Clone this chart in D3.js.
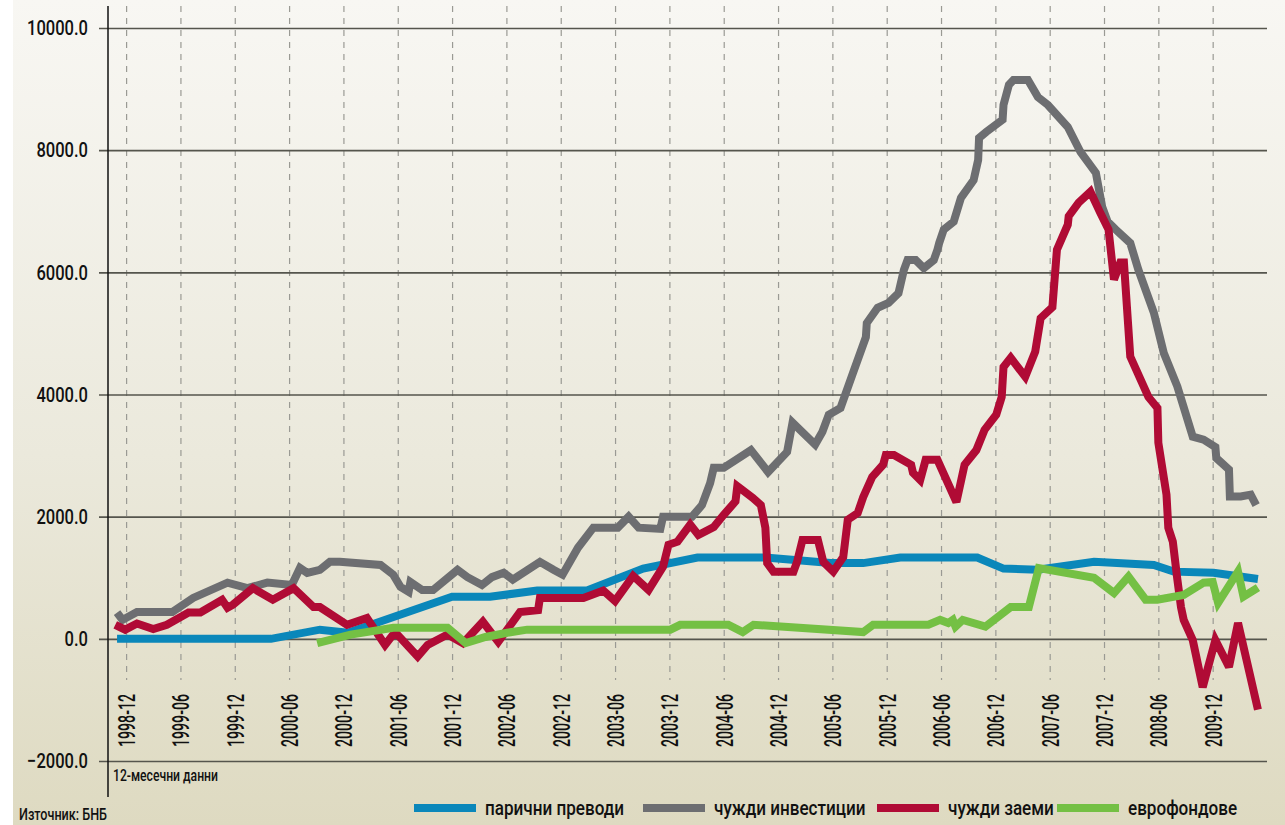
<!DOCTYPE html>
<html>
<head>
<meta charset="utf-8">
<script src="https://cdn.jsdelivr.net/npm/d3@7"></script>
<style>
  body { margin: 0; background: #fff; }
  text { font-family: "Roboto", "DejaVu Sans Condensed", sans-serif; font-weight: 500; fill: #111; }
</style>
</head>
<body>
<script>
// 12-month data, months counted from 1998-12 (= 0)
let xLabels = ["1998-12", "1999-06", "1999-12", "2000-06", "2000-12", "2001-06", "2001-12",
    "2002-06", "2002-12", "2003-06", "2003-12", "2004-06", "2004-12", "2005-06", "2005-12",
    "2006-06", "2006-12", "2007-06", "2007-12", "2008-06", "2009-12"];
let xTickMonths = [0, 6, 12, 18, 24, 30, 36, 42, 48, 54, 60, 66, 72, 78, 84, 90, 96, 102, 108, 114, 120];
let yTicks = [-2000, 0, 2000, 4000, 6000, 8000, 10000];

let seriesNames = ["парични преводи", "чужди инвестиции", "чужди заеми", "еврофондове"];
let seriesColors = ["#0a87ba", "#6d6e71", "#b00b35", "#74c044"];

let remittances = [[-1, 0], [16, 0], [21.4, 150], [24.5, 100], [36, 690], [40.2, 690], [45.4, 790],
    [50.9, 790], [57.1, 1150], [63.1, 1330], [70.6, 1330], [77.8, 1240], [81.4, 1240], [85.5, 1330],
    [94, 1330], [96.9, 1150], [100.7, 1130], [106.9, 1260], [113.5, 1210], [115.7, 1100],
    [120.1, 1080], [125, 980]];

let investments = [[-1, 430], [-0.4, 310], [1.2, 440], [5.1, 440], [7.4, 670], [11.2, 920],
    [13.4, 830], [15.6, 920], [18.3, 880], [19.2, 1160], [20, 1080], [21.4, 1130], [22.5, 1260],
    [23.6, 1260], [28.1, 1210], [29.5, 1050], [30.3, 850], [31.2, 770], [31.4, 930], [32.7, 800],
    [33.9, 800], [36.6, 1130], [37.7, 1010], [39.3, 880], [40.4, 1010], [41.7, 1080], [42.7, 970],
    [45.7, 1260], [47.2, 1130], [48.2, 1050], [49.9, 1490], [51.6, 1820], [54.3, 1820], [55.5, 2000],
    [56.6, 1820], [59, 1800], [59.3, 2000], [62.5, 2000], [63.6, 2190], [64.5, 2550], [64.9, 2800],
    [66, 2800], [69, 3090], [70.9, 2730], [73, 3060], [73.6, 3540], [76.1, 3180], [76.9, 3390],
    [77.6, 3670], [78.9, 3780], [80.2, 4320], [81.7, 4940], [81.8, 5170], [83, 5420], [84.2, 5500],
    [85.3, 5660], [85.9, 6040], [86.3, 6200], [87.2, 6200], [88.1, 6070], [89.2, 6200], [89.6, 6370],
    [89.8, 6480], [90.3, 6700], [91.4, 6830], [92.2, 7220], [93.6, 7510], [94.1, 7840], [94.2, 8200],
    [95, 8300], [96.8, 8500], [96.9, 8740], [97.5, 9070], [98, 9150], [99.6, 9150], [100.7, 8870],
    [101.8, 8740], [104, 8380], [105.4, 7970], [107.1, 7630], [107.8, 7070], [108.4, 6830],
    [109.3, 6700], [110.9, 6480], [111.8, 6040], [113.5, 5340], [114.6, 4680], [116.1, 4130],
    [117.8, 3310], [119, 3260], [120.3, 3140], [120.4, 2960], [121.8, 2770], [121.9, 2330],
    [123.1, 2330], [124.2, 2360], [124.8, 2190]];

let loans = [[-1.2, 230], [-0.1, 150], [1.2, 250], [3, 160], [4.5, 230], [6.9, 430], [8.2, 430],
    [10.6, 640], [11.2, 510], [11.8, 560], [14, 830], [16.2, 640], [18.5, 830], [20.7, 520],
    [21.4, 520], [24.4, 230], [26.6, 340], [28.6, -100], [29.7, 110], [32.2, -290], [33.3, -100],
    [35.5, 70], [37.2, -70], [39.4, 280], [41.1, -50], [43.5, 440], [45.5, 470], [45.7, 670],
    [50.5, 670], [52.7, 790], [54, 620], [56, 1030], [57.7, 800], [59.3, 1180], [59.9, 1540],
    [60.9, 1590], [62.3, 1870], [63.2, 1700], [64.9, 1830], [66, 2030], [67.3, 2250], [67.5, 2500],
    [69.2, 2310], [70.1, 2190], [70.6, 1820], [70.8, 1240], [71.5, 1100], [73.7, 1100], [74.1, 1260],
    [74.7, 1620], [76.4, 1620], [77, 1260], [78.1, 1100], [79.2, 1340], [79.7, 1950], [80.8, 2060],
    [81.4, 2320], [82.4, 2650], [83.6, 2850], [83.9, 3010], [84.8, 3010], [86.7, 2850], [86.9, 2720],
    [87.7, 2600], [88.3, 2930], [89.6, 2930], [91.7, 2240], [92.6, 2850], [93.9, 3090], [94.8, 3420],
    [96.1, 3670], [96.7, 3960], [96.9, 4450], [97.7, 4600], [99.3, 4290], [100.4, 4700], [101, 5250],
    [102.3, 5430], [102.8, 6370], [104, 6780], [104.1, 6920], [105.2, 7140], [106.5, 7320],
    [107.6, 6970], [108.5, 6700], [109.1, 5880], [109.8, 6160], [110.2, 6160], [110.9, 4620],
    [112.9, 3960], [113.9, 3780], [114, 3210], [114.9, 2360], [115.1, 1820], [115.6, 1590],
    [116.1, 970], [116.5, 520], [116.8, 310], [117.8, -20], [118.9, -790], [120.3, -20],
    [121.8, -460], [122.8, 260], [125, -1160]];

let euFunds = [[21.1, -70], [24.8, 70], [29.5, 180], [35.5, 180], [37.5, -70], [39.7, 30],
    [42.1, 100], [44.3, 150], [60.1, 150], [61.2, 230], [66.5, 230], [68.1, 110], [69.3, 230],
    [81.4, 110], [82.5, 230], [88.6, 230], [89.9, 310], [90.8, 260], [91.3, 310], [91.6, 200],
    [92.4, 310], [94.9, 200], [97.7, 520], [99.7, 520], [100.8, 1160], [106.9, 1000], [109.1, 750],
    [110.7, 1020], [112.6, 640], [113.9, 640], [116.8, 720], [119, 920], [120, 930], [120.6, 590],
    [122.8, 1100], [123.4, 690], [125, 840]];

let allSeries = [remittances, investments, loans, euFunds];

let svgWidth = 1285;
let svgHeight = 825;

let svg = d3.select("body")
    .append("svg")
    .attr("width", svgWidth)
    .attr("height", svgHeight);

// squeeze text horizontally so that the reference string gets the wanted width
function squeeze(sel, refNode, wanted) {
    let k = wanted / refNode.getComputedTextLength();
    sel.each(function () {
        let w = this.getComputedTextLength();
        d3.select(this)
            .attr("textLength", w * k)
            .attr("lengthAdjust", "spacingAndGlyphs");
    });
}

// background gradient
let grad = svg.append("defs").append("linearGradient")
    .attr("id", "bg")
    .attr("x1", 0).attr("y1", 0).attr("x2", 0).attr("y2", 1);
grad.append("stop").attr("offset", "0%").attr("stop-color", "#f8f7f3");
grad.append("stop").attr("offset", "55%").attr("stop-color", "#ebe9dc");
grad.append("stop").attr("offset", "100%").attr("stop-color", "#dedac1");

svg.append("rect")
    .attr("x", 13).attr("y", 0)
    .attr("width", svgWidth - 13).attr("height", svgHeight)
    .attr("fill", "url(#bg)");

let xScale = d3.scaleLinear().domain([-2, 126]).range([108, 1267]);
let yScale = d3.scaleLinear().domain([-2000, 10000]).range([761, 28]);

// vertical dashed grid + rotated month labels
let xAxis = d3.axisBottom(xScale)
    .tickValues(xTickMonths)
    .tickFormat((d, i) => xLabels[i])
    .tickSizeInner(674)
    .tickSizeOuter(0);

let xg = svg.append("g")
    .attr("transform", "translate(0,6)")
    .call(xAxis);
xg.attr("font-family", null).attr("font-size", null);
xg.select(".domain").remove();
xg.selectAll("line")
    .attr("stroke", "#9a9a94")
    .attr("stroke-width", 1.2)
    .attr("stroke-dasharray", "6,6");
let xText = xg.selectAll("text")
    .attr("transform", "rotate(-90)")
    .attr("x", -688)
    .attr("y", 0)
    .attr("dy", "0.35em")
    .attr("text-anchor", "end")
    .style("font-size", "24px");
squeeze(xText, xText.node(), 53);

// horizontal grid + value labels
let yAxis = d3.axisLeft(yScale)
    .tickValues(yTicks)
    .tickFormat(d3.format(".1f"))
    .tickSizeInner(-(1267 - 99))
    .tickSizeOuter(0)
    .tickPadding(11);

let yg = svg.append("g")
    .attr("transform", "translate(99,0)")
    .call(yAxis);
yg.attr("font-family", null).attr("font-size", null);
yg.select(".domain").remove();
yg.selectAll("line")
    .attr("stroke", "#55554d")
    .attr("stroke-width", 1.6);
let yText = yg.selectAll("text")
    .style("font-size", "21px");
squeeze(yText, yText.nodes()[6], 61);

// vertical axis line
svg.append("line")
    .attr("x1", 108).attr("x2", 108)
    .attr("y1", 6).attr("y2", 797)
    .attr("stroke", "#111")
    .attr("stroke-width", 1.5);

let line = d3.line()
    .x(d => xScale(d[0]))
    .y(d => yScale(d[1]));

// draw order: grey first, then blue, red, green on top
let drawOrder = [1, 0, 2, 3];
drawOrder.forEach(function (i) {
    svg.append("path")
        .datum(allSeries[i])
        .attr("d", line)
        .attr("fill", "none")
        .attr("stroke", seriesColors[i])
        .attr("stroke-width", 8)
        .attr("stroke-linejoin", "miter")
        .attr("stroke-miterlimit", 3);
});

let note = svg.append("text")
    .attr("x", 113)
    .attr("y", 781)
    .style("font-size", "17px")
    .text("12-месечни данни");
squeeze(note, note.node(), 105);

let source = svg.append("text")
    .attr("x", 19)
    .attr("y", 820)
    .style("font-size", "17px")
    .text("Източник: БНБ");
squeeze(source, source.node(), 88);

// legend
let legendX = [414, 643, 877, 1057];
let legend = svg.selectAll(".legend")
    .data(seriesNames)
    .enter()
    .append("g")
    .attr("class", "legend")
    .attr("transform", (d, i) => `translate(${legendX[i]},808)`);
legend.append("rect")
    .attr("x", 0).attr("y", -4)
    .attr("width", 62).attr("height", 8)
    .attr("fill", (d, i) => seriesColors[i]);
let legendText = legend.append("text")
    .attr("x", 71)
    .attr("y", 0)
    .attr("dy", "0.35em")
    .style("font-size", "21px")
    .text(d => d);
squeeze(legendText, legendText.node(), 139);
</script>
</body>
</html>
